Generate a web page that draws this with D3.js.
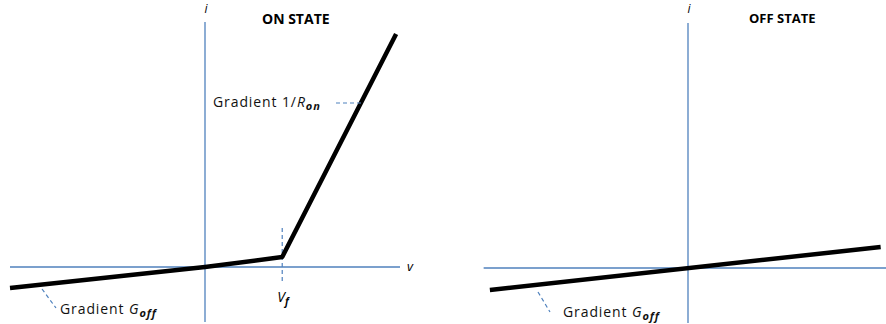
<!DOCTYPE html>
<html>
<head>
<meta charset="utf-8">
<style>
  body { margin: 0; background: #fff; }
  svg { display: block; font-family: "Open Sans", "Liberation Sans", sans-serif; }
</style>
</head>
<body>
<svg width="886" height="324"></svg>
<script src="https://d3js.org/d3.v7.min.js"></script>
<script>

// ON state characteristic: v (arbitrary units) vs i
var onV = [-2.5, 0, 0.99, 2.45];
var onI = [-0.21, 0, 0.1, 2.33];

// OFF state characteristic
var offV = [-2.54, 2.47];
var offI = [-0.22, 0.21];

var vf = 0.99;

var svg = d3.select("svg"),
    blue = "#4f81bd";

// one panel = its own pair of scales
function panel(cx, cy, vMin, vMax) {
    var unitX = 78, unitY = 100;
    return {
        x: d3.scaleLinear().domain([vMin, vMax]).range([cx + vMin * unitX, cx + vMax * unitX]),
        y: d3.scaleLinear().domain([-0.55, 2.45]).range([cy + 0.55 * unitY, cy - 2.45 * unitY])
    };
}

var left = panel(205, 267, -2.5, 2.5),
    right = panel(688, 268, -2.62, 2.54);

function drawAxes(p, g) {
    g.append("line")
        .attr("x1", p.x(p.x.domain()[0])).attr("x2", p.x(p.x.domain()[1]))
        .attr("y1", p.y(0)).attr("y2", p.y(0))
        .attr("stroke", blue).attr("stroke-width", 1.3);
    g.append("line")
        .attr("x1", p.x(0)).attr("x2", p.x(0))
        .attr("y1", p.y(p.y.domain()[1])).attr("y2", p.y(p.y.domain()[0]))
        .attr("stroke", blue).attr("stroke-width", 1.3);
    g.append("text")
        .attr("x", p.x(0) + 1).attr("y", 13)
        .attr("text-anchor", "middle")
        .style("font-style", "italic").style("font-size", "12px")
        .text("i");
}

function drawCurve(p, g, vs, is) {
    var pts = vs.map(function(v, k) { return [v, is[k]]; });
    var line = d3.line()
        .x(function(d) { return p.x(d[0]); })
        .y(function(d) { return p.y(d[1]); });
    g.append("path")
        .datum(pts)
        .attr("fill", "none")
        .attr("stroke", "#000")
        .attr("stroke-width", 4.5)
        .attr("stroke-linejoin", "round")
        .attr("d", line);
}

function dashed(g, x1, y1, x2, y2) {
    g.append("line")
        .attr("x1", x1).attr("y1", y1).attr("x2", x2).attr("y2", y2)
        .attr("stroke", blue).attr("stroke-width", 1.2)
        .attr("stroke-dasharray", "4,3");
}

function gradLabel(g, x, y, pre, main, sub) {
    var t = g.append("text").attr("x", x).attr("y", y)
        .style("font-size", "14px").style("letter-spacing", "0.9px").attr("fill", "#111");
    t.append("tspan").text(pre);
    t.append("tspan").style("font-style", "italic").text(main);
    t.append("tspan").style("font-style", "italic").style("font-size", "11px")
        .style("font-weight", "bold").attr("dy", 3).text(sub);
}

// ---- left: ON STATE
var gl = svg.append("g");
drawAxes(left, gl);

dashed(gl, left.x(vf), left.y(0.39), left.x(vf), left.y(-0.14));
drawCurve(left, gl, onV, onI);

gl.append("text")
    .attr("x", left.x(2.5) + 10).attr("y", left.y(0) + 4)
    .attr("text-anchor", "middle")
    .style("font-style", "italic").style("font-size", "13px")
    .text("v");

var vfT = gl.append("text")
    .attr("x", left.x(vf) - 5).attr("y", 302)
    .style("font-style", "italic").style("font-size", "14px");
vfT.append("tspan").text("V");
vfT.append("tspan").style("font-size", "10px").style("font-weight", "bold").attr("dy", 3).text("f");

gl.append("text")
    .attr("x", 262).attr("y", 24)
    .style("font-weight", "bold").style("font-size", "14px")
    .text("ON STATE");

gradLabel(gl, 213, 107, "Gradient 1/", "R", "on");
dashed(gl, 336, 103, 362, 103);

gradLabel(gl, 60, 314, "Gradient ", "G", "off");
dashed(gl, 42, 289, 56, 308);

// ---- right: OFF STATE
var gr = svg.append("g");
drawAxes(right, gr);
drawCurve(right, gr, offV, offI);

gr.append("text")
    .attr("x", 749).attr("y", 23)
    .style("font-weight", "bold").style("font-size", "13px")
    .text("OFF STATE");

gradLabel(gr, 563, 317, "Gradient ", "G", "off");
dashed(gr, 538, 292, 550, 312);

</script>
</body>
</html>
